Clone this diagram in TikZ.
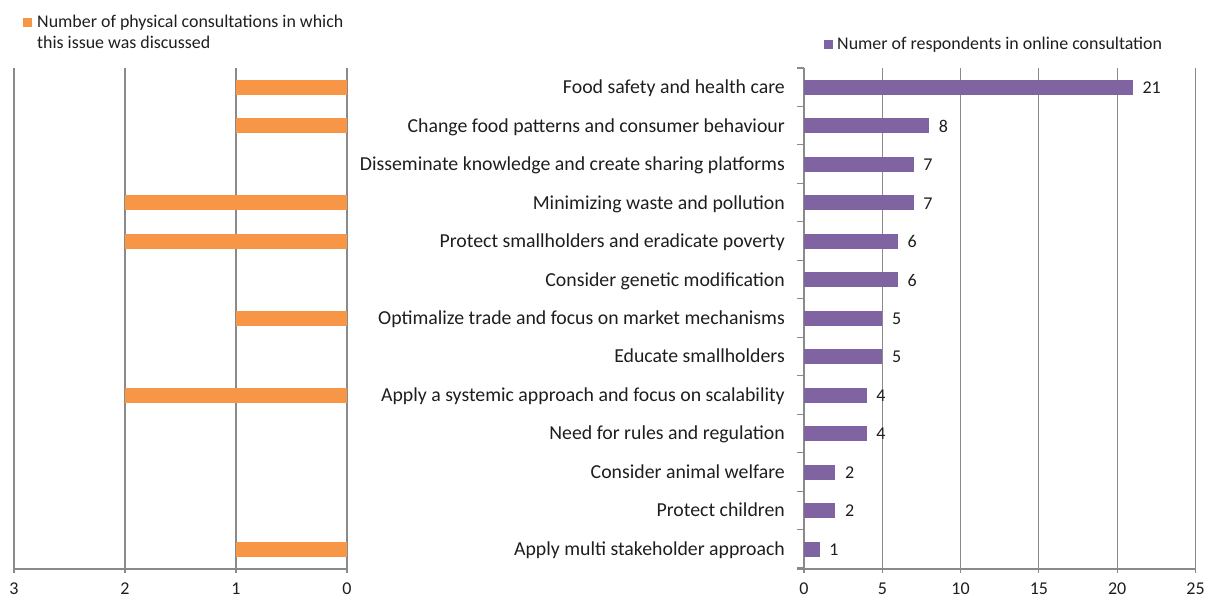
\documentclass[tikz,border=0pt]{standalone}
\usepackage{fontspec}
\setmainfont{Carlito}
\definecolor{orng}{HTML}{F79646}
\definecolor{purp}{HTML}{8064A2}
\definecolor{gridc}{HTML}{8A8A8A}
\definecolor{txtc}{HTML}{1E1E1E}
\begin{document}
\begin{tikzpicture}[x=1pt,y=-1pt,
  gridline/.style={draw=gridc, line width=1.1pt},
  obar/.style={fill=orng, draw=none},
  pbar/.style={fill=purp, draw=none},
  catlabel/.style={anchor=base east, inner sep=0pt, text=txtc, font=\fontsize{19.8}{22}\selectfont},
  vallabel/.style={anchor=base west, inner sep=0pt, text=txtc, font=\fontsize{18}{20}\selectfont},
  ticklabel/.style={anchor=base, inner sep=0pt, text=txtc, font=\fontsize{18}{20}\selectfont},
  legtext/.style={anchor=base west, inner sep=0pt, text=txtc, font=\fontsize{17.9}{21}\selectfont, align=left}
]
\useasboundingbox (0,0) rectangle (1207,597);
\def\rowH{38.46}
% ---------- left chart grid ----------
\foreach \v/\xx in {3/14,2/125,1/236,0/347}{
  \draw[gridline] (\xx,68) -- (\xx,573);
  \node[ticklabel] (lt\v) at (\xx,594.5) {\v};
}
\draw[gridline] (14,569) -- (347,569);
% ---------- right chart grid ----------
\foreach \v in {5,10,15,20,25}{
  \pgfmathsetmacro{\xx}{804+15.66*\v}
  \draw[gridline] (\xx,68) -- (\xx,573);
}
\foreach \v in {0,5,10,15,20,25}{
  \pgfmathsetmacro{\xx}{804+15.66*\v}
  \node[ticklabel] (rt\v) at (\xx,594.5) {\v};
}
\draw[gridline] (804,68) -- (804,573);
\draw[gridline] (797,569) -- (1195.5,569);
\foreach \k in {0,...,13}{
  \pgfmathsetmacro{\yy}{68+\rowH*\k}
  \draw[gridline] (797,\yy) -- (804,\yy);
}
% ---------- data ----------
\foreach \i/\o/\p/\lab in {
  1/1/21/{Food safety and health care},
  2/1/8/{Change food patterns and consumer behaviour},
  3/0/7/{Disseminate knowledge and create sharing platforms\ },
  4/2/7/{Minimizing waste and pollution},
  5/2/6/{Protect smallholders and eradicate poverty},
  6/0/6/{Consider genetic modification},
  7/1/5/{Optimalize trade and focus on market mechanisms\ },
  8/0/5/{Educate smallholders},
  9/2/4/{Apply a systemic approach and focus on scalability},
  10/0/4/{Need for rules and regulation},
  11/0/2/{Consider animal welfare},
  12/0/2/{Protect children},
  13/1/1/{Apply multi stakeholder approach}}{
  \pgfmathsetmacro{\yc}{87.5+\rowH*(\i-1)}
  \pgfmathsetmacro{\ol}{347-111*\o}
  \pgfmathsetmacro{\pr}{804+15.66*\p}
  \ifnum\o>0
    \fill[obar] (\ol,\yc-7.5) rectangle (347,\yc+7.5);
  \fi
  \fill[pbar] (804,\yc-7.5) rectangle (\pr,\yc+7.5);
  \node[catlabel] (cat\i) at (785,\yc+6.2) {\lab};
  \node[vallabel] (val\i) at (\pr+9.5,\yc+6.2) {\p};
}
% ---------- legends ----------
\fill[orng] (23,18) rectangle (31.7,27);
\node[legtext] (leg1) at (37,27.3) {Number of physical consultations in which};
\node[legtext] (leg2) at (37,48.3) {this issue was discussed};
\fill[purp] (823.5,39.5) rectangle (832.5,48.5);
\node[legtext] (leg3) at (837,49) {Numer of respondents in online consultation};
\end{tikzpicture}
\end{document}
